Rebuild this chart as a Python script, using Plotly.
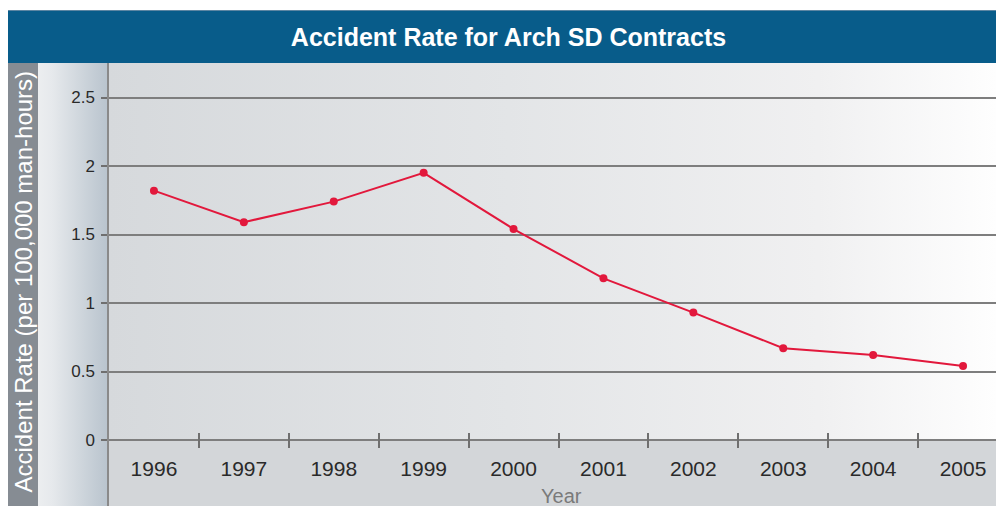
import base64
import plotly.graph_objects as go

# ---- data ----
years = ["1996", "1997", "1998", "1999", "2000", "2001", "2002", "2003", "2004", "2005"]
accident_rate = [1.82, 1.59, 1.74, 1.95, 1.54, 1.18, 0.93, 0.67, 0.62, 0.54]
y_tickvals = [0, 0.5, 1, 1.5, 2, 2.5]
y_ticktext = ["0", "0.5", "1", "1.5", "2", "2.5"]

title_text = "Accident Rate for Arch SD Contracts"
y_title = "Accident Rate (per 100,000 man-hours)"
x_title = "Year"

# ---- page geometry (pixels) ----
W, H = 996, 506
BAR_L, BAR_T = 8, 10          # title bar
PLOT_L, PLOT_T = 109, 63      # plotting area top-left
STRIP_R = 38                  # dark strip holding the y title
ZERO_PX = 440                 # vertical pixel of y = 0
UNIT_PX = 137                 # pixels per 1.0 on the y axis
CAT_PX = 89.9                 # pixels per year category

y_range = [-(H - ZERO_PX) / UNIT_PX, (ZERO_PX - PLOT_T) / UNIT_PX]
x_range = [-0.5, -0.5 + (W - PLOT_L) / CAT_PX]

# ---- background artwork as an inline svg ----
svg = f"""<svg xmlns='http://www.w3.org/2000/svg' width='{W}' height='{H}' viewBox='0 0 {W} {H}' preserveAspectRatio='none'>
<defs>
<linearGradient id='plotbg' x1='0' x2='1' y1='0' y2='0'>
<stop offset='0' stop-color='#d6d9dc'/>
<stop offset='0.45' stop-color='#e3e5e7'/>
<stop offset='0.8' stop-color='#f0f0f1'/>
<stop offset='1' stop-color='#fefefe'/>
</linearGradient>
<linearGradient id='gutter' x1='0' x2='1' y1='0' y2='0'>
<stop offset='0' stop-color='#eceef0'/>
<stop offset='0.2' stop-color='#e6e9ec'/>
<stop offset='1' stop-color='#b8c3cd'/>
</linearGradient>
</defs>
<rect x='0' y='0' width='{W}' height='{H}' fill='#ffffff'/>
<rect x='{BAR_L}' y='{BAR_T}' width='{W - BAR_L}' height='{PLOT_T - BAR_T}' fill='#085c8a'/>
<rect x='{BAR_L}' y='{BAR_T}' width='{W - BAR_L}' height='1' fill='#5d86a3'/>
<rect x='{BAR_L}' y='{PLOT_T}' width='{STRIP_R - BAR_L}' height='{H - PLOT_T}' fill='#868c93'/>
<rect x='{STRIP_R}' y='{PLOT_T}' width='{PLOT_L - STRIP_R}' height='{H - PLOT_T}' fill='url(#gutter)'/>
<rect x='{PLOT_L}' y='{PLOT_T}' width='{W - PLOT_L}' height='{ZERO_PX - PLOT_T}' fill='url(#plotbg)'/>
<rect x='{PLOT_L}' y='{ZERO_PX}' width='{W - PLOT_L}' height='{H - ZERO_PX}' fill='#d3d6d9'/>
</svg>"""
svg_uri = "data:image/svg+xml;base64," + base64.b64encode(svg.encode()).decode()

FONT = "Liberation Sans, Arial, Helvetica, sans-serif"
GRID = "#7e7e7e"

fig = go.Figure()
fig.add_trace(go.Scatter(
    x=years,
    y=accident_rate,
    mode="lines+markers",
    line=dict(color="#e2183c", width=2),
    marker=dict(color="#e2183c", size=8),
    hoverinfo="x+y",
    showlegend=False,
))

fig.update_layout(
    width=W,
    height=H,
    margin=dict(l=0, r=0, t=0, b=0),
    paper_bgcolor="#ffffff",
    plot_bgcolor="rgba(0,0,0,0)",
    images=[dict(
        source=svg_uri, xref="paper", yref="paper",
        x=0, y=1, sizex=1, sizey=1,
        xanchor="left", yanchor="top",
        sizing="stretch", layer="below",
    )],
    title=dict(
        text=title_text,
        x=508.5 / W, xanchor="center",
        y=1 - 37.5 / H, yanchor="middle",
        font=dict(family=FONT, size=25, color="#ffffff", weight="bold"),
    ),
    xaxis=dict(
        type="category",
        domain=[PLOT_L / W, 1],
        range=x_range,
        anchor="free",
        position=(H - ZERO_PX - 8) / H,
        showline=False,
        showgrid=False,
        zeroline=False,
        tickson="boundaries",
        ticks="inside",
        ticklen=15,
        tickwidth=1.5,
        tickcolor="#6f6f6f",
        tickfont=dict(family=FONT, size=21, color="#2a2a2a"),
        ticklabelstandoff=6,
    ),
    yaxis=dict(
        domain=[0, (H - PLOT_T) / H],
        range=y_range,
        tickvals=y_tickvals,
        ticktext=y_ticktext,
        showline=True,
        linecolor="#8a8a8a",
        linewidth=1.5,
        showgrid=True,
        gridcolor=GRID,
        gridwidth=2,
        zeroline=False,
        ticks="outside",
        ticklen=6,
        tickwidth=1.5,
        tickcolor="#6f6f6f",
        tickfont=dict(family=FONT, size=17, color="#2a2a2a"),
        ticklabelstandoff=3,
    ),
    annotations=[
        dict(
            text=y_title, textangle=-90,
            xref="paper", yref="paper",
            x=23 / W, y=1 - 281.5 / H,
            xanchor="center", yanchor="middle",
            showarrow=False,
            font=dict(family=FONT, size=24, color="#ffffff"),
        ),
        dict(
            text=x_title,
            xref="paper", yref="paper",
            x=561 / W, y=1 - 495.5 / H,
            xanchor="center", yanchor="middle",
            showarrow=False,
            font=dict(family=FONT, size=20, color="#7a7a7a"),
        ),
    ],
)

fig.write_html("out.html")
